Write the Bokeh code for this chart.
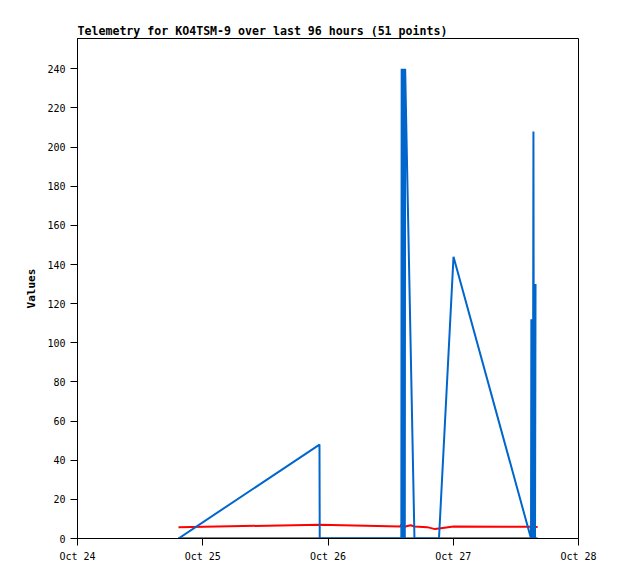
import pandas as pd
from bokeh.plotting import figure
from bokeh.models import Range1d, FixedTicker, DatetimeTickFormatter
from bokeh.embed import file_html
from bokeh.resources import INLINE

title_text = "Telemetry for KO4TSM-9 over last 96 hours (51 points)"
y_label = "Values"

blue_times = ["2023-10-24 19:21", "2023-10-25 22:22", "2023-10-25 22:25",
              "2023-10-26 14:03", "2023-10-26 14:07", "2023-10-26 14:11",
              "2023-10-26 14:15", "2023-10-26 14:19", "2023-10-26 14:23",
              "2023-10-26 14:27", "2023-10-26 14:31", "2023-10-26 14:35",
              "2023-10-26 14:39", "2023-10-26 14:43", "2023-10-26 14:47",
              "2023-10-26 16:34", "2023-10-26 21:16",
              "2023-10-27 00:03", "2023-10-27 14:54", "2023-10-27 14:58",
              "2023-10-27 15:04", "2023-10-27 15:09", "2023-10-27 15:15",
              "2023-10-27 15:22", "2023-10-27 15:28", "2023-10-27 15:34",
              "2023-10-27 15:40", "2023-10-27 15:46"]
blue_values = [0, 48, 0,
               0, 240, 0,
               240, 0, 240,
               0, 240, 0,
               240, 0, 240,
               0, 0,
               144, 0, 112,
               0, 112, 0,
               208, 0, 130,
               0, 130]

red_times = ["2023-10-24 19:21", "2023-10-25 22:22", "2023-10-26 13:50",
             "2023-10-26 14:00", "2023-10-26 14:20", "2023-10-26 14:50",
             "2023-10-26 15:50", "2023-10-26 16:34", "2023-10-26 19:00",
             "2023-10-26 20:30", "2023-10-26 22:20", "2023-10-27 00:03",
             "2023-10-27 14:54", "2023-10-27 16:10"]
red_values = [5.8, 7.0, 6.1,
              7.1, 5.5, 6.1,
              6.8, 6.1, 5.8,
              4.8, 5.5, 6.1,
              6.0, 5.9]

black_times = ["2023-10-24 19:21", "2023-10-27 16:10"]
black_values = [0, 0]

x_ticks = ["2023-10-24", "2023-10-25", "2023-10-26", "2023-10-27", "2023-10-28"]
y_ticks = [0, 20, 40, 60, 80, 100, 120, 140, 160, 180, 200, 220, 240]

bt = pd.to_datetime(blue_times)
rt = pd.to_datetime(red_times)
kt = pd.to_datetime(black_times)
xt = pd.to_datetime(x_ticks)
epoch = pd.Timestamp("1970-01-01")
xt_ms = [float((t - epoch) // pd.Timedelta("1ms")) for t in xt]

p = figure(width=610, height=571, x_axis_type="datetime",
           output_backend="svg", toolbar_location=None,
           min_border_left=77, min_border_right=32,
           min_border_top=38, min_border_bottom=33)
p.x_range = Range1d(xt[0], xt[-1])
p.y_range = Range1d(0, 255.5)

p.line(kt, black_values, line_color="black", line_width=2)
p.line(rt, red_values, line_color="#FF0000", line_width=2)
p.line(bt, blue_values, line_color="#0066CC", line_width=2)

mono = "DejaVu Sans Mono"
p.title.text = title_text
p.title.text_font = mono
p.title.text_font_size = "11.6px"
p.title.text_font_style = "bold"
p.title.text_color = "black"
p.title.align = "left"
p.title.standoff = 1

p.xgrid.visible = False
p.ygrid.visible = False
p.outline_line_color = "black"
p.outline_line_width = 1
p.outline_line_alpha = 1

for ax in (p.xaxis[0], p.yaxis[0]):
    ax.major_tick_out = 7
    ax.major_tick_in = 0
    ax.minor_tick_out = 0
    ax.minor_tick_in = 0
    ax.axis_line_color = "black"
    ax.major_tick_line_color = "black"
    ax.major_label_text_font = mono
    ax.major_label_text_font_size = "10px"
    ax.major_label_text_color = "black"
    ax.major_label_standoff = 5

p.xaxis[0].ticker = FixedTicker(ticks=xt_ms)
fmt = "%b %d"
p.xaxis[0].formatter = DatetimeTickFormatter(
    microseconds=fmt, milliseconds=fmt, seconds=fmt, minsec=fmt, minutes=fmt,
    hourmin=fmt, hours=fmt, days=fmt, months=fmt, years=fmt)
p.yaxis[0].ticker = FixedTicker(ticks=y_ticks)
p.yaxis[0].axis_label = y_label
p.yaxis[0].axis_label_text_font = mono
p.yaxis[0].axis_label_text_font_size = "11px"
p.yaxis[0].axis_label_text_font_style = "bold"
p.yaxis[0].axis_label_text_color = "black"
p.yaxis[0].axis_label_standoff = 6

open("out.html", "w").write(file_html(p, INLINE))
